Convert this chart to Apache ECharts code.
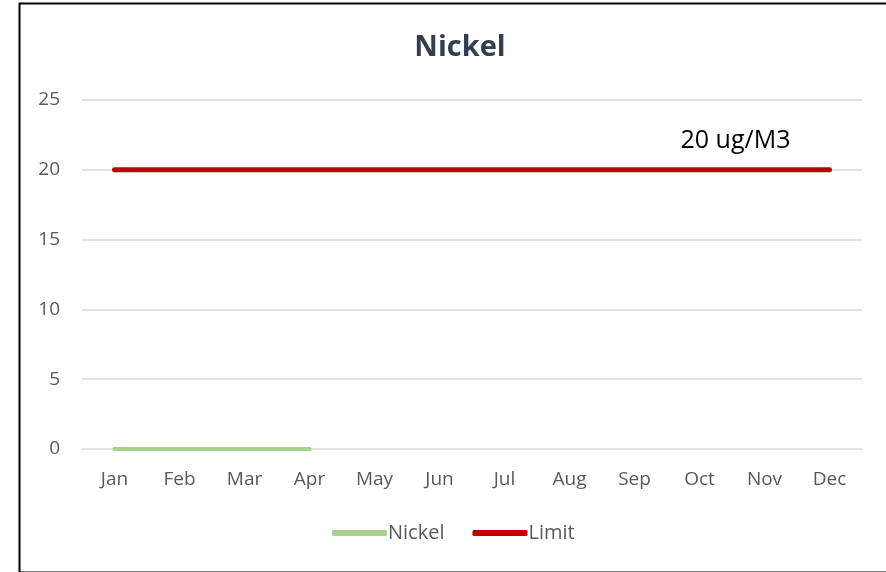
<!DOCTYPE html>
<html>
<head>
<meta charset="utf-8">
<script src="https://cdn.jsdelivr.net/npm/echarts@6/dist/echarts.min.js"></script>
<style>html,body{margin:0;padding:0;background:#fff;}#c{width:886px;height:572px;}</style>
</head>
<body>
<div id="c"></div>
<script>
const categories = ['Jan','Feb','Mar','Apr','May','Jun','Jul','Aug','Sep','Oct','Nov','Dec'];
const nickelValues = [0, 0, 0, 0, null, null, null, null, null, null, null, null];
const limitValues = [20, 20, 20, 20, 20, 20, 20, 20, 20, 20, 20, 20];
const yTicks = [0, 5, 10, 15, 20, 25];
const limitLabel = '20 ug/M3';

const font = "'Open Sans', 'Liberation Sans', sans-serif";
const chart = echarts.init(document.getElementById('c'));
chart.setOption({
  animation: false,
  backgroundColor: '#fff',
  graphic: [{
    type: 'rect', left: 17, top: 1,
    shape: { width: 880, height: 569 },
    style: { fill: 'none', stroke: '#000', lineWidth: 2 }
  }],
  title: {
    text: 'Nickel', left: 455, textAlign: 'center', top: 28,
    textStyle: { fontFamily: font, fontSize: 29, fontWeight: 'bold', color: '#333F50' }
  },
  legend: {
    top: 523, left: 332, padding: 0,
    itemWidth: 55, itemHeight: 6, itemGap: 28,
    icon: 'roundRect',
    textStyle: { fontFamily: font, fontSize: 20, color: '#595959', padding: [0, 0, 0, -4] },
    data: [
      { name: 'Nickel', itemStyle: { color: '#A9D18E', opacity: 1 } },
      { name: 'Limit', itemStyle: { color: '#C00000', opacity: 1 } }
    ]
  },
  grid: { left: 82, right: 24, top: 100, bottom: 123 },
  xAxis: {
    type: 'category', data: categories, boundaryGap: true,
    axisLine: { show: false }, axisTick: { show: false },
    axisLabel: { fontFamily: font, fontSize: 19, color: '#595959', margin: 21 }
  },
  yAxis: {
    type: 'value', min: yTicks[0], max: yTicks[yTicks.length - 1], interval: 5,
    axisLine: { show: false }, axisTick: { show: false },
    axisLabel: { fontFamily: font, fontSize: 19, color: '#595959', margin: 22 },
    splitLine: { lineStyle: { color: '#D9D9D9', width: 1.5 } }
  },
  series: [
    {
      name: 'Nickel', type: 'line', data: nickelValues, showSymbol: false, symbol: 'none',
      color: '#A9D18E', lineStyle: { width: 4, color: '#A9D18E', cap: 'round' }
    },
    {
      name: 'Limit', type: 'line', showSymbol: true, symbol: 'circle', symbolSize: 0,
      color: '#C00000', lineStyle: { width: 5, color: '#C00000', cap: 'round' },
      itemStyle: { color: '#C00000' },
      emphasis: { disabled: true },
      label: { show: false },
      data: limitValues.map((v, i) => i === limitValues.length - 1
        ? { value: v, label: { show: true, formatter: limitLabel, position: 'top', offset: [-94, -11], fontFamily: font, fontSize: 25, color: '#000' } }
        : v)
    }
  ]
});
</script>
</body>
</html>
